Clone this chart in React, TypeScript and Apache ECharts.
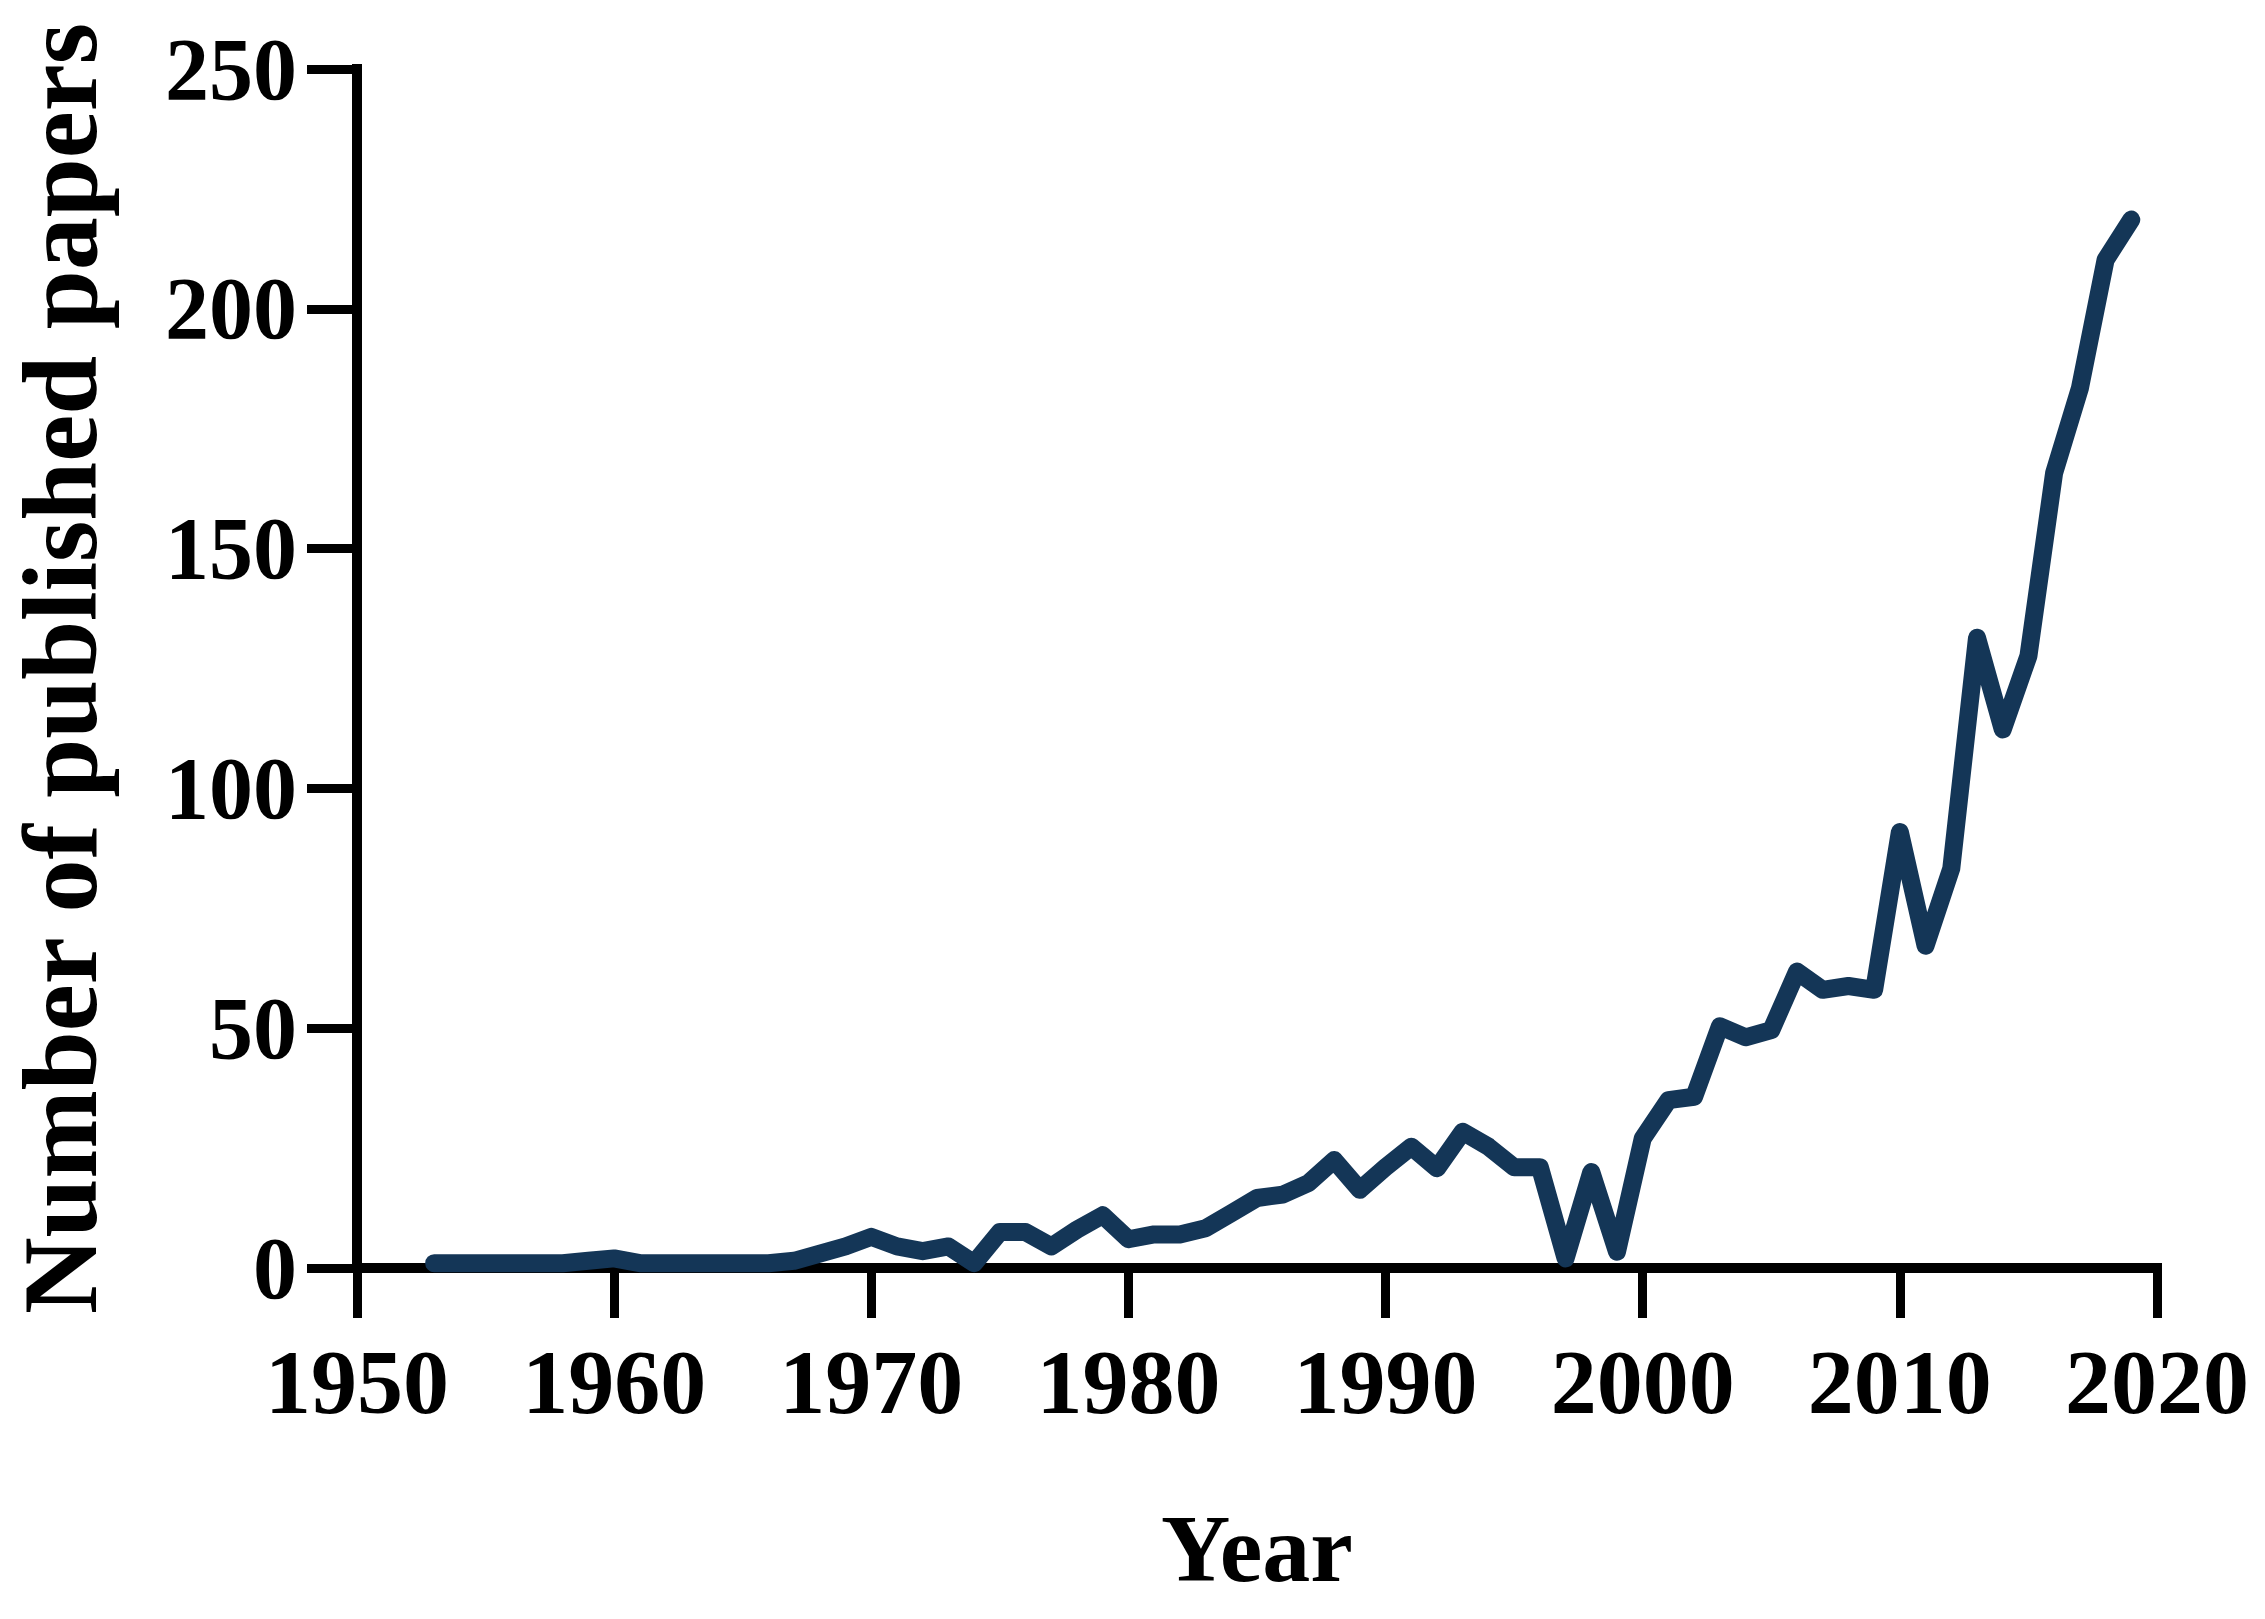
import React, { useEffect, useRef } from "react";
import * as echarts from "echarts";

const years: number[] = [
  1953, 1954, 1955, 1956, 1957, 1958, 1959, 1960, 1961, 1962,
  1963, 1964, 1965, 1966, 1967, 1968, 1969, 1970, 1971, 1972,
  1973, 1974, 1975, 1976, 1977, 1978, 1979, 1980, 1981, 1982,
  1983, 1984, 1985, 1986, 1987, 1988, 1989, 1990, 1991, 1992,
  1993, 1994, 1995, 1996, 1997, 1998, 1999, 2000, 2001, 2002,
  2003, 2004, 2005, 2006, 2007, 2008, 2009, 2010, 2011, 2012,
  2013, 2014, 2015, 2016, 2017, 2018, 2019,
];

const papers: number[] = [
  1, 1, 1, 1, 1, 1, 1.5, 2, 1, 1,
  1, 1, 1, 1, 1.5, 3, 4.5, 6.5, 4.5, 3.5,
  4.5, 1, 7.5, 7.5, 4.5, 8, 11, 6, 7, 7,
  8.3, 11.4, 14.6, 15.3, 17.7, 22.5, 16.3, 21, 25.3, 20.8,
  28.4, 25.3, 21, 21, 2, 20, 3.4, 27, 35, 35.7,
  50.4, 48.1, 49.6, 61.8, 58, 58.8, 58, 90.9, 67.2, 83.3,
  131.4, 112.3, 127.6, 165.8, 183.4, 210.2, 218.6,
];

const xTicks = { min: 1950, max: 2020, interval: 10 };
const yTicks = { min: 0, max: 250, interval: 50 };

const xTitle = "Year";
const yTitle = "Number of published papers";

export default function App() {
  const ref = useRef<HTMLDivElement>(null);

  useEffect(() => {
    if (!ref.current) return;
    const chart = echarts.init(ref.current, null, { renderer: "svg" });
    const font = "Liberation Serif";
    const axisLine = { show: true, onZero: false, lineStyle: { color: "#000", width: 10, cap: "square" } };
    const axisTick = { show: true, inside: false, length: 50, lineStyle: { color: "#000", width: 9 } };
    chart.setOption({
      animation: false,
      backgroundColor: "#fff",
      grid: { left: 357, right: 108, top: 69, bottom: 351, containLabel: false, outerBoundsMode: "none" },
      xAxis: {
        type: "value",
        min: xTicks.min,
        max: xTicks.max,
        interval: xTicks.interval,
        axisLine,
        axisTick,
        splitLine: { show: false },
        axisLabel: {
          margin: 68,
          color: "#000",
          fontFamily: font,
          fontWeight: "bold",
          fontSize: 92,
          formatter: (v: number) => String(v),
        },
        name: xTitle,
        nameLocation: "middle",
        nameGap: 232,
        nameTextStyle: { color: "#000", fontFamily: font, fontWeight: "bold", fontSize: 96 },
      },
      yAxis: {
        type: "value",
        min: yTicks.min,
        max: yTicks.max,
        interval: yTicks.interval,
        axisLine,
        axisTick,
        splitLine: { show: false },
        axisLabel: {
          margin: 60,
          color: "#000",
          fontFamily: font,
          fontWeight: "bold",
          fontSize: 88,
        },
        name: yTitle,
        nameLocation: "middle",
        nameGap: 244,
        nameTextStyle: { color: "#000", fontFamily: font, fontWeight: "bold", fontSize: 106 },
      },
      series: [
        {
          type: "line",
          data: years.map((y, i) => [y, papers[i]]),
          showSymbol: false,
          symbol: "none",
          lineStyle: { color: "#143657", width: 18, cap: "round", join: "round" },
          z: 3,
        },
      ],
    });
    return () => chart.dispose();
  }, []);

  return (
    <div
      ref={ref}
      style={{ position: "fixed", left: 0, top: 0, width: 2265, height: 1619, background: "#fff" }}
    />
  );
}
